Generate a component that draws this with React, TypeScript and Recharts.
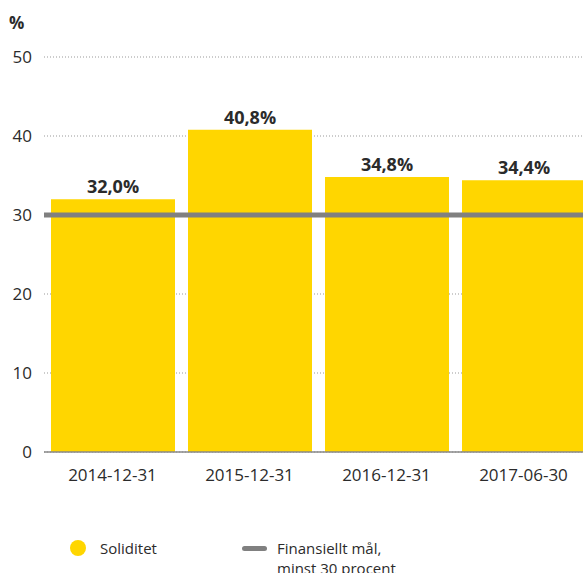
import { BarChart, Bar, XAxis, YAxis, CartesianGrid, ReferenceLine, LabelList } from 'recharts';

const dates = ['2014-12-31', '2015-12-31', '2016-12-31', '2017-06-30'];
const soliditet = [32.0, 40.8, 34.8, 34.4];
const target = 30;
const yTicks = [0, 10, 20, 30, 40, 50];

const data = dates.map((d, i) => ({ date: d, soliditet: soliditet[i] }));

const FONT = '"Open Sans", Lato, sans-serif';
const YELLOW = '#ffd600';
const GREY = '#808080';
const TEXT = '#2b2b2b';

const fmt = (v: number) => v.toFixed(1).replace('.', ',') + '%';

const legendText = { position: 'absolute' as const, fontSize: 15, lineHeight: '20px', whiteSpace: 'nowrap' as const };

export default function App() {
  return (
    <div style={{ position: 'relative', width: 575, height: 565, overflow: 'hidden', fontFamily: FONT, color: TEXT }}>
      <style>{'html, body { overflow: hidden; } body { margin: 8px 0 0 8px; }'}</style>
      <span style={{ position: 'absolute', left: 1, top: 3, fontSize: 17, fontWeight: 700 }}>%</span>
      <BarChart
        width={590}
        height={500}
        data={data}
        margin={{ top: 49, right: 6, left: 0, bottom: 26 }}
        barSize={124}
      >
        <CartesianGrid vertical={false} stroke="#999" strokeDasharray="1 2" />
        <XAxis
          dataKey="date"
          tickLine={false}
          tickSize={0}
          tickMargin={17}
          height={30}
          axisLine={{ stroke: '#888', strokeWidth: 1.5 }}
          tick={{ fill: TEXT, fontSize: 17, fontFamily: FONT }}
        />
        <YAxis
          width={36}
          domain={[0, 50]}
          ticks={yTicks}
          axisLine={false}
          tickLine={false}
          tickSize={0}
          tickMargin={12}
          tick={{ fill: TEXT, fontSize: 17, fontFamily: FONT }}
        />
        <Bar dataKey="soliditet" fill={YELLOW} isAnimationActive={false}>
          <LabelList
            dataKey="soliditet"
            position="top"
            offset={6}
            formatter={(v: any) => fmt(Number(v))}
            style={{ fill: TEXT, fontSize: 18, fontWeight: 700, fontFamily: FONT }}
          />
        </Bar>
        <ReferenceLine y={target} stroke={GREY} strokeWidth={5} />
      </BarChart>
      <div style={{ position: 'absolute', left: 62, top: 532, width: 16, height: 16, borderRadius: 8, background: YELLOW }} />
      <span style={{ ...legendText, left: 92, top: 530 }}>Soliditet</span>
      <div style={{ position: 'absolute', left: 234, top: 538, width: 25, height: 5, borderRadius: 3, background: GREY }} />
      <span style={{ ...legendText, left: 269, top: 530 }}>Finansiellt mål,</span>
      <span style={{ ...legendText, left: 269, top: 550 }}>minst 30 procent</span>
    </div>
  );
}
